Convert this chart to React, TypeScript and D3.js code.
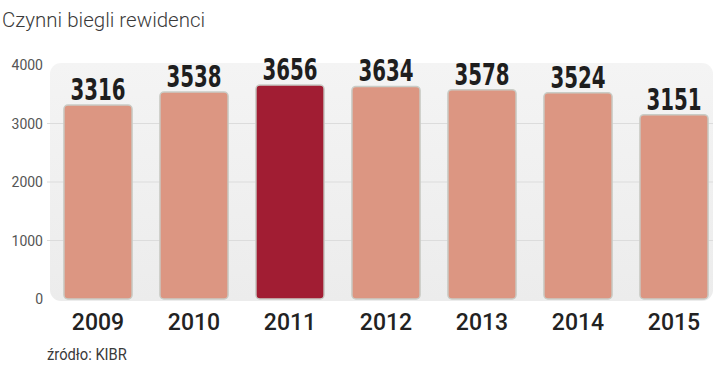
import * as d3 from "d3";

const years = ["2009", "2010", "2011", "2012", "2013", "2014", "2015"];
const values = [3316, 3538, 3656, 3634, 3578, 3524, 3151];
const highlightYear = "2011";
const yTicks = [0, 1000, 2000, 3000, 4000];

export default function App() {
  const width = 720;
  const height = 367;

  const x = d3.scaleBand<string>().domain(years).range([50, 722]).paddingInner(0.29).paddingOuter(0.145);
  const y = d3.scaleLinear().domain([0, 4000]).range([299, 65]);

  const panel = { x0: 50, x1: 713, y0: 63, y1: 301 };

  return (
    <svg
      width={width}
      height={height}
      style={{ position: "absolute", left: 0, top: 0, background: "#fff" }}
    >
      <defs>
        <linearGradient id="bg" x1="0" y1="0" x2="0" y2="1">
          <stop offset="0" stopColor="#f4f4f4" />
          <stop offset="1" stopColor="#ececec" />
        </linearGradient>
      </defs>

      <text x={2} y={27} fontFamily="Roboto, sans-serif" fontWeight={300} fontSize={20.5} fill="#3a3a3a">
        Czynni biegli rewidenci
      </text>

      {/* panel */}
      <rect
        x={panel.x0}
        y={panel.y0}
        width={panel.x1 - panel.x0}
        height={panel.y1 - panel.y0}
        rx={11}
        fill="url(#bg)"
      />

      {/* grid */}
      {yTicks.slice(1, 4).map((t) => (
        <line key={t} x1={47} x2={panel.x1} y1={y(t)} y2={y(t)} stroke="#dcdcdc" strokeWidth={1} />
      ))}

      {/* y tick labels */}
      {yTicks.map((t) => (
        <text
          key={t}
          x={43}
          y={y(t) + 5}
          textAnchor="end"
          fontFamily="Roboto, sans-serif"
          fontSize={14}
          fill="#555"
        >
          {t}
        </text>
      ))}

      {/* bars */}
      {years.map((yr, i) => {
        const cx = x(yr)! + x.bandwidth() / 2;
        return (
          <g key={yr}>
            <rect
              x={x(yr)!}
              y={y(values[i])}
              width={x.bandwidth()}
              height={y(0) - y(values[i])}
              rx={4}
              fill={yr === highlightYear ? "#a11d33" : "#dc9682"}
              stroke="#c9ccc6"
              strokeWidth={1.5}
            />
            <text
              transform={`translate(${cx},${y(values[i]) - 5}) scale(0.66,1)`}
              textAnchor="middle"
              fontFamily="'DejaVu Sans', sans-serif"
              fontWeight={700}
              fontSize={30}
              fill="#1e1e1e"
            >
              {values[i]}
            </text>
            <text
              x={cx}
              y={330}
              textAnchor="middle"
              fontFamily="Roboto, sans-serif"
              fontWeight={500}
              fontSize={23}
              fill="#222"
            >
              {yr}
            </text>
          </g>
        );
      })}

      <text
        transform="translate(47,360) scale(0.92,1)"
        fontFamily="Roboto, sans-serif"
        fontSize={16}
        fill="#3a3a3a"
      >
        źródło: KIBR
      </text>
    </svg>
  );
}
